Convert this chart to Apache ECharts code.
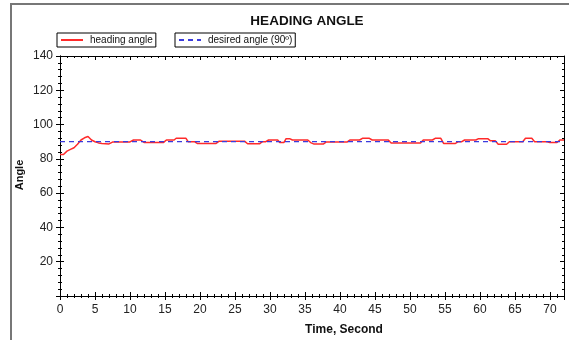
<!DOCTYPE html>
<html><head><meta charset="utf-8">
<script src="https://cdn.jsdelivr.net/npm/echarts@6/dist/echarts.min.js"></script>
<style>html,body{margin:0;padding:0;background:#fff}#c{width:569px;height:340px}</style>
</head><body><div id="c"></div>
<script>
const titleText = 'HEADING ANGLE';
const seriesNames = ['heading angle', 'desired angle (90º)'];
const xTitle = 'Time, Second';
const yTitle = 'Angle';
const timeSec = [0,0.5,1,1.5,2,2.5,3,3.5,4,4.5,5,5.5,6,7,7.5,10,10.5,11.5,12,14.8,15.2,16.3,16.6,18,18.3,19.2,19.6,22.3,22.7,26.4,26.8,28.5,28.9,29.4,29.8,31.1,31.4,32,32.3,32.8,33.2,35.4,35.8,36.3,37.6,38,41,41.4,42.8,43.2,44.2,44.6,46.9,47.3,51.5,51.9,53.2,53.6,54.4,54.8,56.5,56.9,57.4,57.8,59.4,59.8,61.1,61.5,62.2,62.6,63.8,64.2,66.1,66.5,67.4,67.8,69.6,70,71,71.4,72];
const heading = [82.5,82.5,84.5,85.5,86.5,88.5,91,92.3,93,91,90,89.3,89,88.7,89.8,89.9,91,91,89.6,89.6,91,91,92,92,90,90,89,89,90.2,90.2,88.8,88.8,90,90,91,91,89.6,89.6,91.8,91.8,91,91,89.5,88.6,88.6,89.8,89.8,91,91,92,92,91,91,89.2,89.2,91,91,92,92,89,89,90,90,91,91,91.8,91.8,90.5,90.5,88.5,88.5,90,90,92,92,90,90,89.5,89.5,91,91];
const desiredTime = [0, 72];
const desired = [90, 90];
const xTicks = {min: 0, max: 72, step: 5};
const yTicks = {min: 0, max: 140, step: 20};

const chart = echarts.init(document.getElementById('c'));
const font = 'Liberation Sans, Arial, sans-serif';
function xAx(pos, inside, labels) {
  return {type:'value', position:pos, min:xTicks.min, max:xTicks.max, interval:xTicks.step,
    axisLine:{show:true, onZero:false, lineStyle:{color:'#000', width:1}},
    axisTick:{show:true, inside:inside, length:4, lineStyle:{color:'#000'}},
    minorTick:{show:true, splitNumber:5, length:2, lineStyle:{color:'#000'}},
    splitLine:{show:false},
    axisLabel:{show:labels, fontFamily:font, fontSize:12, color:'#222', margin:8,
      formatter: v => (v % 5 === 0 ? String(v) : '')}};
}
function yAx(pos, inside, labels) {
  return {type:'value', position:pos, min:yTicks.min, max:yTicks.max, interval:yTicks.step,
    axisLine:{show:true, onZero:false, lineStyle:{color:'#000', width:1}},
    axisTick:{show:true, inside:inside, length:4, lineStyle:{color:'#000'}},
    minorTick:{show:true, splitNumber:5, length:2, lineStyle:{color:'#000'}},
    splitLine:{show:false},
    axisLabel:{show:labels, fontFamily:font, fontSize:12, color:'#222', margin:7,
      formatter: v => (v === 0 ? '' : String(v))}};
}
const xs = timeSec.map((t,i)=>[t, heading[i]]);
const ds = desiredTime.map((t,i)=>[t, desired[i]]);
const legendBase = {itemWidth:22, itemHeight:8, itemGap:4, padding:[2,3,2,3],
  borderColor:'#000', borderWidth:1, borderRadius:0,
  itemStyle:{opacity:0},
  textStyle:{fontFamily:font, fontSize:10, color:'#111', padding:[0,0,0,2]}};
chart.setOption({
  backgroundColor:'#fff',
  animation:false,
  title:{text:titleText, left:302, textAlign:'center', top:9,
    textStyle:{fontFamily:font, fontSize:13.5, fontWeight:'bold', color:'#111'}},
  legend:[
    Object.assign({data:[seriesNames[0]], left:57, top:33}, legendBase),
    Object.assign({data:[seriesNames[1]], left:175, top:33}, legendBase)
  ],
  grid:{left:60, right:5, top:56, bottom:44},
  xAxis:[xAx('bottom', false, true), xAx('bottom', true, false), xAx('top', true, false)],
  yAxis:[yAx('left', false, true), yAx('left', true, false), yAx('right', true, false)],
  series:[
    {name:seriesNames[0], type:'line', data:xs, showSymbol:false, symbol:'none', smooth:false,
      lineStyle:{color:'#ff2a2a', width:1.5}, itemStyle:{color:'#ff2a2a'}, z:3},
    {name:seriesNames[1], type:'line', data:ds, showSymbol:false, symbol:'none',
      lineStyle:{color:'#3b3bdd', width:1.3, type:[5,4]}, itemStyle:{color:'#3b3bdd'}, z:4}
  ],
  graphic:[
    {type:'polyline', shape:{points:[[11,340],[11,4],[569,4]]}, style:{stroke:'#777', lineWidth:2, fill:null}},
    {type:'text', x:344, y:330, style:{text:xTitle, font:'bold 12px '+font, fill:'#111', textAlign:'center', textVerticalAlign:'middle'}},
    {type:'text', x:20, y:175, rotation:Math.PI/2, style:{text:yTitle, font:'bold 11px '+font, fill:'#111', textAlign:'center', textVerticalAlign:'middle'}}
  ]
});
</script></body></html>
